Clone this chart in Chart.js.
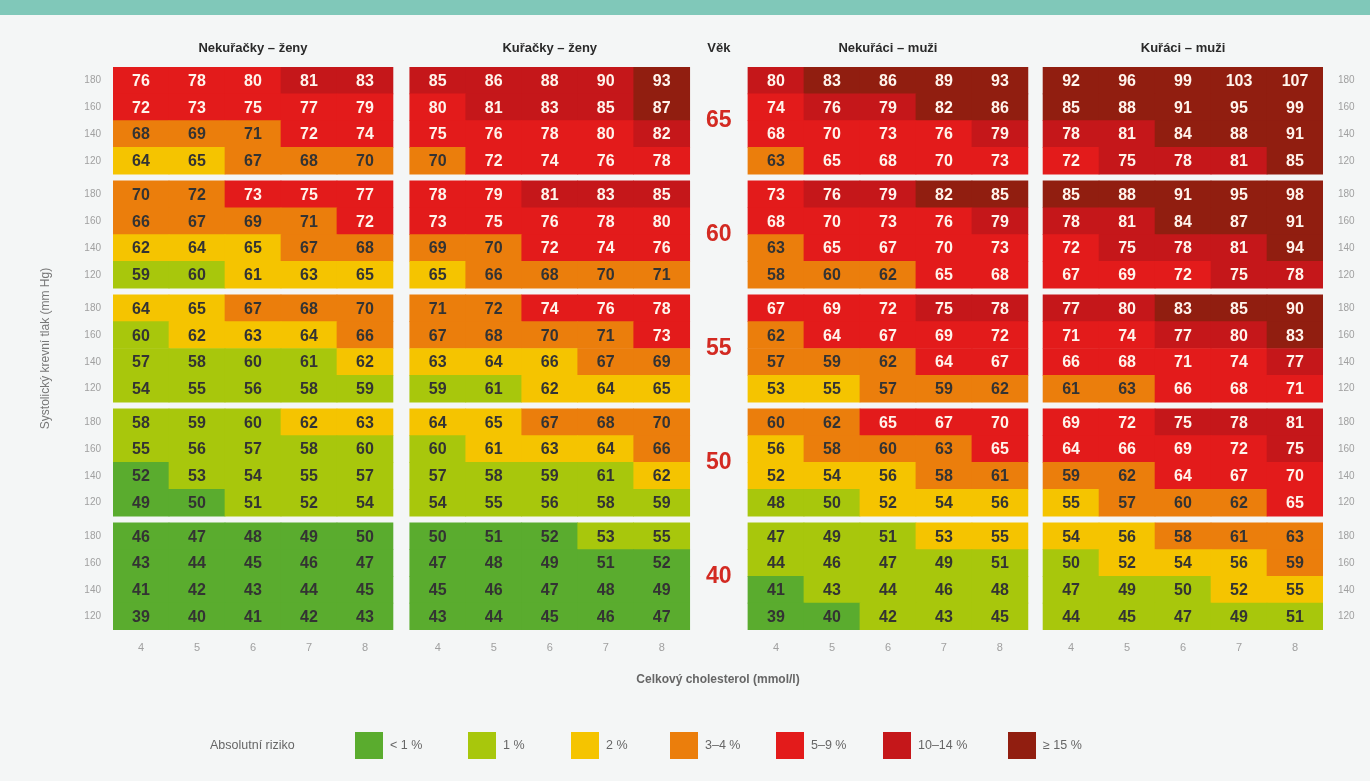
<!DOCTYPE html>
<html lang="cs">
<head>
<meta charset="utf-8">
<title>Srdeční věk – SCORE</title>
<script src="https://cdn.jsdelivr.net/npm/chart.js@4.4.1/dist/chart.umd.min.js"></script>
<style>
  html, body { margin: 0; padding: 0; background: #f4f6f6; }
  #wrap { position: relative; width: 1370px; height: 781px; overflow: hidden; font-family: "Liberation Sans", Arial, sans-serif; }
  #band { position: absolute; left: 0; top: 0; width: 1370px; height: 15px; background: #80c8b9; }
  #chart { position: absolute; left: 0; top: 0; }
  .lg { position: absolute; top: 732px; height: 27px; line-height: 27px; font-size: 12.5px; color: #666; white-space: nowrap; }
  .lg i { display: inline-block; width: 28px; height: 27px; vertical-align: top; margin-right: 7px; }
</style>
</head>
<body>
<div id="wrap">
  <div id="band"></div>
  <canvas id="chart" width="1370" height="781"></canvas>
  <div id="legend"></div>
</div>
<script>
const panels = ['Nekuřačky – ženy', 'Kuřačky – ženy', 'Nekuřáci – muži', 'Kuřáci – muži']
const ages = [65, 60, 55, 50, 40]
const sbp = [180, 160, 140, 120]
const chol = [4, 5, 6, 7, 8]
const riskLabels = ['< 1 %', '1 %', '2 %', '3–4 %', '5–9 %', '10–14 %', '≥ 15 %']

// srdeční věk, řádky: věk 65..40, v každém TK 180..120
const womenNonSmokers = [
  [76, 78, 80, 81, 83], [72, 73, 75, 77, 79], [68, 69, 71, 72, 74], [64, 65, 67, 68, 70],
  [70, 72, 73, 75, 77], [66, 67, 69, 71, 72], [62, 64, 65, 67, 68], [59, 60, 61, 63, 65],
  [64, 65, 67, 68, 70], [60, 62, 63, 64, 66], [57, 58, 60, 61, 62], [54, 55, 56, 58, 59],
  [58, 59, 60, 62, 63], [55, 56, 57, 58, 60], [52, 53, 54, 55, 57], [49, 50, 51, 52, 54],
  [46, 47, 48, 49, 50], [43, 44, 45, 46, 47], [41, 42, 43, 44, 45], [39, 40, 41, 42, 43]
]
const womenSmokers = [
  [85, 86, 88, 90, 93], [80, 81, 83, 85, 87], [75, 76, 78, 80, 82], [70, 72, 74, 76, 78],
  [78, 79, 81, 83, 85], [73, 75, 76, 78, 80], [69, 70, 72, 74, 76], [65, 66, 68, 70, 71],
  [71, 72, 74, 76, 78], [67, 68, 70, 71, 73], [63, 64, 66, 67, 69], [59, 61, 62, 64, 65],
  [64, 65, 67, 68, 70], [60, 61, 63, 64, 66], [57, 58, 59, 61, 62], [54, 55, 56, 58, 59],
  [50, 51, 52, 53, 55], [47, 48, 49, 51, 52], [45, 46, 47, 48, 49], [43, 44, 45, 46, 47]
]
const menNonSmokers = [
  [80, 83, 86, 89, 93], [74, 76, 79, 82, 86], [68, 70, 73, 76, 79], [63, 65, 68, 70, 73],
  [73, 76, 79, 82, 85], [68, 70, 73, 76, 79], [63, 65, 67, 70, 73], [58, 60, 62, 65, 68],
  [67, 69, 72, 75, 78], [62, 64, 67, 69, 72], [57, 59, 62, 64, 67], [53, 55, 57, 59, 62],
  [60, 62, 65, 67, 70], [56, 58, 60, 63, 65], [52, 54, 56, 58, 61], [48, 50, 52, 54, 56],
  [47, 49, 51, 53, 55], [44, 46, 47, 49, 51], [41, 43, 44, 46, 48], [39, 40, 42, 43, 45]
]
const menSmokers = [
  [92, 96, 99, 103, 107], [85, 88, 91, 95, 99], [78, 81, 84, 88, 91], [72, 75, 78, 81, 85],
  [85, 88, 91, 95, 98], [78, 81, 84, 87, 91], [72, 75, 78, 81, 94], [67, 69, 72, 75, 78],
  [77, 80, 83, 85, 90], [71, 74, 77, 80, 83], [66, 68, 71, 74, 77], [61, 63, 66, 68, 71],
  [69, 72, 75, 78, 81], [64, 66, 69, 72, 75], [59, 62, 64, 67, 70], [55, 57, 60, 62, 65],
  [54, 56, 58, 61, 63], [50, 52, 54, 56, 59], [47, 49, 50, 52, 55], [44, 45, 47, 49, 51]
]

// kategorie absolutního rizika (index do riskLabels)
const riskWomenNonSmokers = [
  [4, 4, 4, 5, 5], [4, 4, 4, 4, 4], [3, 3, 3, 4, 4], [2, 2, 3, 3, 3],
  [3, 3, 4, 4, 4], [3, 3, 3, 3, 4], [2, 2, 2, 3, 3], [1, 1, 2, 2, 2],
  [2, 2, 3, 3, 3], [1, 2, 2, 2, 3], [1, 1, 1, 1, 2], [1, 1, 1, 1, 1],
  [1, 1, 1, 2, 2], [1, 1, 1, 1, 1], [0, 1, 1, 1, 1], [0, 0, 1, 1, 1],
  [0, 0, 0, 0, 0], [0, 0, 0, 0, 0], [0, 0, 0, 0, 0], [0, 0, 0, 0, 0]
]
const riskWomenSmokers = [
  [5, 5, 5, 5, 6], [4, 5, 5, 5, 6], [4, 4, 4, 4, 5], [3, 4, 4, 4, 4],
  [4, 4, 5, 5, 5], [4, 4, 4, 4, 4], [3, 3, 4, 4, 4], [2, 3, 3, 3, 3],
  [3, 3, 4, 4, 4], [3, 3, 3, 3, 4], [2, 2, 2, 3, 3], [1, 1, 2, 2, 2],
  [2, 2, 3, 3, 3], [1, 2, 2, 2, 3], [1, 1, 1, 1, 2], [1, 1, 1, 1, 1],
  [0, 0, 0, 1, 1], [0, 0, 0, 0, 0], [0, 0, 0, 0, 0], [0, 0, 0, 0, 0]
]
const riskMenNonSmokers = [
  [5, 6, 6, 6, 6], [4, 5, 5, 6, 6], [4, 4, 4, 4, 5], [3, 4, 4, 4, 4],
  [4, 5, 5, 6, 6], [4, 4, 4, 4, 5], [3, 4, 4, 4, 4], [3, 3, 3, 4, 4],
  [4, 4, 4, 5, 5], [3, 4, 4, 4, 4], [3, 3, 3, 4, 4], [2, 2, 3, 3, 3],
  [3, 3, 4, 4, 4], [2, 3, 3, 3, 4], [2, 2, 2, 3, 3], [1, 1, 2, 2, 2],
  [1, 1, 1, 2, 2], [1, 1, 1, 1, 1], [0, 1, 1, 1, 1], [0, 0, 1, 1, 1]
]
const riskMenSmokers = [
  [6, 6, 6, 6, 6], [6, 6, 6, 6, 6], [5, 5, 6, 6, 6], [4, 5, 5, 5, 6],
  [6, 6, 6, 6, 6], [5, 5, 6, 6, 6], [4, 5, 5, 5, 6], [4, 4, 4, 5, 5],
  [5, 5, 6, 6, 6], [4, 4, 5, 5, 6], [4, 4, 4, 4, 5], [3, 3, 4, 4, 4],
  [4, 4, 5, 5, 5], [4, 4, 4, 4, 5], [3, 3, 4, 4, 4], [2, 3, 3, 3, 4],
  [2, 2, 3, 3, 3], [1, 2, 2, 2, 3], [1, 1, 1, 2, 2], [1, 1, 1, 1, 1]
]

const heartAge = [womenNonSmokers, womenSmokers, menNonSmokers, menSmokers]
const risk = [riskWomenNonSmokers, riskWomenSmokers, riskMenNonSmokers, riskMenSmokers]

const riskColors = ['#5aac2e', '#a8c70c', '#f5c400', '#eb7e0c', '#e31b1b', '#c5171a', '#911e10']
const font = '"Liberation Sans", Arial, sans-serif'

// rozložení: sloupec = 1 jednotka osy x, řádek = 1 jednotka osy y
const panelOffset = [0, 5.3, 11.34, 16.61]
const xMax = 21.61
const blockStep = 4.25
const yMax = blockStep * 4 + 4

const cells = []
panels.forEach((p, pi) => {
  ages.forEach((a, bi) => {
    sbp.forEach((s, ri) => {
      chol.forEach((c, ci) => {
        const row = bi * 4 + ri
        const top = bi * blockStep + ri
        cells.push({
          x: panelOffset[pi] + ci + 0.5,
          y: [top, top + 1],
          age: heartAge[pi][row][ci],
          risk: risk[pi][row][ci]
        })
      })
    })
  })
})

const xTicks = panelOffset.flatMap(o => chol.map((c, i) => o + i + 0.5))
const yTicks = ages.flatMap((a, bi) => sbp.map((s, i) => bi * blockStep + i + 0.5))

const cellLabels = {
  id: 'cellLabels',
  afterDatasetsDraw(chart) {
    const { ctx } = chart
    const meta = chart.getDatasetMeta(0)
    ctx.save()
    ctx.textAlign = 'center'
    ctx.textBaseline = 'middle'
    ctx.font = 'bold 16px ' + font
    meta.data.forEach((el, i) => {
      const cell = cells[i]
      const pt = el.getCenterPoint()
      ctx.fillStyle = cell.risk >= 4 ? '#fff4ec' : '#333333'
      ctx.fillText(String(cell.age), pt.x, pt.y + 1)
    })
    ctx.restore()
  }
}

const headings = {
  id: 'headings',
  afterDraw(chart) {
    const { ctx, chartArea, scales: { x, y } } = chart
    ctx.save()
    ctx.textAlign = 'center'
    ctx.textBaseline = 'middle'
    ctx.fillStyle = '#2a2a2a'
    ctx.font = 'bold 13px ' + font
    panels.forEach((t, i) => {
      ctx.fillText(t, x.getPixelForValue(panelOffset[i] + 2.5), chartArea.top - 19)
    })
    const midX = x.getPixelForValue((panelOffset[1] + 5 + panelOffset[2]) / 2)
    ctx.fillText('Věk', midX, chartArea.top - 19)
    ctx.fillStyle = '#d32a22'
    ctx.font = 'bold 23px ' + font
    ages.forEach((a, bi) => {
      ctx.fillText(String(a), midX, y.getPixelForValue(bi * blockStep + 2))
    })
    ctx.restore()
  }
}

const sideAxis = (position, width, padding) => ({
  type: 'linear',
  position: position,
  reverse: true,
  min: 0,
  max: yMax,
  grid: { display: false, drawTicks: false },
  border: { display: false },
  afterBuildTicks: axis => { axis.ticks = yTicks.map(v => ({ value: v })) },
  afterFit: axis => { axis.width = width },
  ticks: {
    autoSkip: false,
    padding: padding,
    color: '#a0a0a0',
    font: { family: font, size: 10 },
    callback: (v, i) => sbp[i % 4]
  }
})

const leftAxis = sideAxis('left', 75, 12)
leftAxis.title = {
  display: true,
  text: 'Systolický krevní tlak (mm Hg)',
  color: '#777',
  font: { family: font, size: 12 },
  padding: { top: 0, bottom: 0 }
}

const ctx = document.getElementById('chart').getContext('2d')

const myChart = new Chart(ctx, {
  type: 'bar',
  data: {
    datasets: [{
      data: cells,
      backgroundColor: c => riskColors[c.raw ? c.raw.risk : 0],
      borderWidth: 0,
      categoryPercentage: 1,
      barPercentage: 1
    }]
  },
  options: {
    responsive: false,
    animation: false,
    devicePixelRatio: 1,
    layout: { padding: { left: 38, right: 0, top: 67, bottom: 91 } },
    plugins: {
      legend: { display: false },
      tooltip: { enabled: false }
    },
    scales: {
      x: {
        type: 'linear',
        min: 0,
        max: xMax,
        offset: false,
        grid: { display: false, drawTicks: false },
        border: { display: false },
        afterBuildTicks: axis => { axis.ticks = xTicks.map(v => ({ value: v })) },
        afterFit: axis => { axis.height = 60 },
        ticks: {
          autoSkip: false,
          maxRotation: 0,
          padding: 11,
          color: '#a0a0a0',
          font: { family: font, size: 11 },
          callback: (v, i) => chol[i % 5]
        },
        title: {
          display: true,
          text: 'Celkový cholesterol (mmol/l)',
          color: '#666',
          font: { family: font, size: 12, weight: 'bold' },
          padding: { top: 0, bottom: 3 }
        }
      },
      y: leftAxis,
      yRight: sideAxis('right', 47, 15)
    }
  },
  plugins: [cellLabels, headings]
})

// legenda
const legendX = [355, 468, 571, 670, 776, 883, 1008]
const legend = document.getElementById('legend')
let html = '<div class="lg" style="left:210px">Absolutní riziko</div>'
riskLabels.forEach((t, i) => {
  html += '<div class="lg" style="left:' + legendX[i] + 'px"><i style="background:' + riskColors[i] + '"></i>' + t + '</div>'
})
legend.innerHTML = html
</script>
</body>
</html>
